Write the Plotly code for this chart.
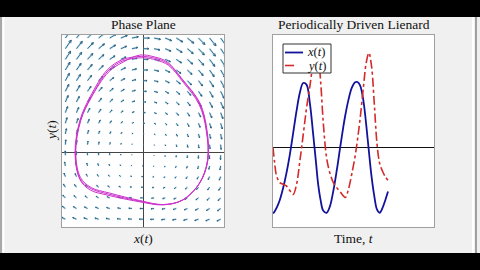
import numpy as np
import plotly.graph_objects as go

# ---- right panel: time series ----
t_vals = [0, 0.29, 0.58, 1.17, 1.75, 2.33, 2.92, 3.50, 4.08, 4.66, 5.25, 5.83, 6.41, 7.00,
          7.46, 7.87, 8.28, 8.75, 9.33, 9.91, 10.50, 11.08, 11.66, 12.24, 12.59, 13.12,
          13.70, 14.29, 14.69, 15.16, 15.74, 16.21, 16.68, 17.14, 17.61, 18.08, 18.54,
          19.01, 19.53, 20.0]
x_vals = [-1.99, -1.93, -1.84, -1.59, -1.23, -0.78, -0.22, 0.43, 1.09, 1.65, 1.95, 1.90,
          1.34, 0.38, -0.42, -1.13, -1.59, -1.91, -1.97, -1.77, -1.30, -0.70, -0.02, 0.64,
          0.99, 1.44, 1.80, 1.97, 1.98, 1.87, 1.39, 0.69, -0.12, -0.88, -1.46, -1.87,
          -1.97, -1.84, -1.59, -1.33]
y_vals = [0.0, -0.47, -0.83, -1.06, -1.11, -1.16, -1.30, -1.42, -1.13, -0.42, 0.38, 1.19,
          1.85, 2.56, 2.86, 2.71, 2.00, 0.74, -0.32, -0.78, -1.06, -1.21, -1.33, -1.46,
          -1.51, -1.26, -0.80, -0.25, 0.23, 0.89, 1.85, 2.56, 2.86, 2.45, 1.34, 0.13,
          -0.47, -0.70, -0.88, -0.99]

# ---- left panel: limit-cycle loops read from the phase plane (three passes) ----
loop_a_x = [-0.09, 0.36, 0.72, 1.19, 1.70, 1.91, 1.94, 1.70, 1.19, 0.60, -0.09, -1.07,
            -1.58, -1.88, -2.03, -1.88, -1.58, -1.07, -0.63]
loop_a_y = [2.88, 2.82, 2.68, 2.15, 1.47, 0.68, -0.21, -0.88, -1.38, -1.53, -1.44, -1.24,
            -1.09, -0.79, 0.00, 0.97, 1.65, 2.44, 2.74]
loop_b_x = [-0.05, 0.38, 0.74, 1.20, 1.69, 1.90, 1.93, 1.69, 1.18, 0.59, -0.09, -1.03,
            -1.56, -1.88, -2.02, -1.87, -1.56, -1.05, -0.60]
loop_b_y = [2.84, 2.78, 2.63, 2.12, 1.45, 0.67, -0.21, -0.89, -1.39, -1.52, -1.42, -1.21,
            -1.05, -0.76, 0.01, 0.96, 1.63, 2.41, 2.71]
loop_c_x = [0.02, 0.40, 0.76, 1.20, 1.68, 1.89, 1.93, 1.68, 1.16, 0.58, -0.10, -1.00,
            -1.55, -1.87, -2.01, -1.86, -1.55, -1.03, -0.58]
loop_c_y = [2.80, 2.73, 2.58, 2.08, 1.42, 0.66, -0.22, -0.90, -1.40, -1.52, -1.40, -1.18,
            -1.02, -0.72, 0.02, 0.95, 1.62, 2.38, 2.68]

# ---- quiver grid for the phase plane ----
grid_x = np.linspace(-2.32, 2.32, 15)
grid_y = np.linspace(-1.95, 3.38, 18)

title_left = "Phase Plane"
title_right = "Periodically Driven Lienard"
legend_labels = ["<i>x</i>(<i>t</i>)", "<i>y</i>(<i>t</i>)"]

W, H = 480, 270
FONT = "Liberation Serif"
BLUE = "#12129c"
RED = "#d42a2a"

# arrows of the direction field
fx, fy, hx, hy = [], [], [], []
k = 0.057
for xx in grid_x:
    for yy in grid_y:
        u = yy
        v = -xx * max(0.25, 1 + 0.3 * yy)
        dx, dy = u * k, v * k
        x1, y1 = xx + dx, yy + dy
        fx += [xx, x1, None]
        fy += [yy, y1, None]
        L = np.hypot(dx, dy)
        if L > 1e-6:
            ang = np.arctan2(dy, dx)
            hl = 0.3 * L
            for s in (1, -1):
                a = ang + np.pi - s * 0.45
                hx += [x1, x1 + hl * np.cos(a), None]
                hy += [y1, y1 + hl * np.sin(a), None]

phase_x = loop_a_x + loop_b_x + loop_c_x + loop_a_x[:1]
phase_y = loop_a_y + loop_b_y + loop_c_y + loop_a_y[:1]

fig = go.Figure()
fig.add_trace(go.Scatter(x=fx, y=fy, mode="lines", xaxis="x", yaxis="y",
                         line=dict(color="rgba(120,200,230,0.40)", width=2.2),
                         hoverinfo="skip", showlegend=False))
fig.add_trace(go.Scatter(x=fx + hx, y=fy + hy, mode="lines", xaxis="x", yaxis="y",
                         line=dict(color="#2a5d7c", width=0.9),
                         hoverinfo="skip", showlegend=False))
fig.add_trace(go.Scatter(x=phase_x, y=phase_y, mode="lines", xaxis="x", yaxis="y",
                         line=dict(color="#cc33cc", width=1.0, shape="spline"),
                         hoverinfo="skip", showlegend=False))
fig.add_trace(go.Scatter(x=t_vals, y=x_vals, mode="lines", xaxis="x2", yaxis="y2",
                         name=legend_labels[0], showlegend=False,
                         line=dict(color=BLUE, width=1.8, shape="spline")))
fig.add_trace(go.Scatter(x=t_vals, y=y_vals, mode="lines", xaxis="x2", yaxis="y2",
                         name=legend_labels[1], showlegend=False,
                         line=dict(color=RED, width=1.6, dash="dashdot", shape="spline")))

ax_common = dict(showticklabels=False, ticks="", showgrid=False, showline=True,
                 mirror=True, linecolor="#a0a0a0", linewidth=1)

fig.update_layout(
    width=W, height=H, margin=dict(l=0, r=0, t=0, b=0),
    paper_bgcolor="#f0f0f0", plot_bgcolor="white",
    font=dict(family=FONT, size=13, color="#111"),
    showlegend=False,
    xaxis=dict(domain=[62 / W, 224 / W], range=[-2.42, 2.42], anchor="y",
               zeroline=True, zerolinecolor="#444", zerolinewidth=1, **ax_common),
    yaxis=dict(domain=[1 - 227 / H, 1 - 35 / H], range=[-2.18, 3.47], anchor="x",
               zeroline=True, zerolinecolor="#444", zerolinewidth=1, **ax_common),
    xaxis2=dict(domain=[273 / W, 434 / W], range=[0, 28], anchor="y2",
                zeroline=False, **ax_common),
    yaxis2=dict(domain=[1 - 227 / H, 1 - 35 / H], range=[-2.4, 3.4], anchor="x2",
                zeroline=True, zerolinecolor="#111", zerolinewidth=1, **ax_common),
)

def px(x):
    return x / W

def py(y):
    return 1 - y / H

shapes = [
    dict(type="rect", xref="paper", yref="paper", x0=0, x1=1, y0=py(17), y1=1,
         fillcolor="black", line=dict(width=0), layer="below"),
    dict(type="rect", xref="paper", yref="paper", x0=0, x1=1, y0=0, y1=py(253),
         fillcolor="black", line=dict(width=0), layer="below"),
    dict(type="line", xref="paper", yref="paper", x0=px(1), x1=px(1), y0=py(253), y1=py(17),
         line=dict(color="#a8a8a8", width=2), layer="below"),
    dict(type="line", xref="paper", yref="paper", x0=px(3.5), x1=px(3.5), y0=py(253), y1=py(17),
         line=dict(color="white", width=2), layer="below"),
    dict(type="line", xref="paper", yref="paper", x0=px(473), x1=px(473), y0=py(253), y1=py(17),
         line=dict(color="white", width=2), layer="below"),
    dict(type="line", xref="paper", yref="paper", x0=px(476), x1=px(476), y0=py(253), y1=py(17),
         line=dict(color="#a0a0a0", width=2), layer="below"),
    # legend box
    dict(type="rect", xref="paper", yref="paper", x0=px(283), x1=px(331), y0=py(73), y1=py(44),
         fillcolor="white", line=dict(color="#333", width=1), layer="above"),
    dict(type="line", xref="paper", yref="paper", x0=px(285), x1=px(303), y0=py(52.5), y1=py(52.5),
         line=dict(color=BLUE, width=1.8), layer="above"),
    dict(type="line", xref="paper", yref="paper", x0=px(285), x1=px(303), y0=py(65.5), y1=py(65.5),
         line=dict(color=RED, width=1.6, dash="dash"), layer="above"),
]
fig.update_layout(shapes=shapes)

ann = [
    dict(text=title_left, x=px(143), y=py(24)),
    dict(text=title_right, x=px(353.5), y=py(24)),
    dict(text="<i>x</i>(<i>t</i>)", x=px(143), y=py(238)),
    dict(text="Time, <i>t</i>", x=px(353.5), y=py(238)),
    dict(text="<i>y</i>(<i>t</i>)", x=px(51), y=py(131), textangle=-90),
]
for a in ann:
    a.update(xref="paper", yref="paper", showarrow=False, xanchor="center", yanchor="middle",
             font=dict(family=FONT, size=13.5, color="#111"))
legend_ann = [
    dict(text=legend_labels[0], x=px(305), y=py(52.5)),
    dict(text=legend_labels[1], x=px(305), y=py(65.5)),
]
for a in legend_ann:
    a.update(xref="paper", yref="paper", showarrow=False, xanchor="left", yanchor="middle",
             font=dict(family=FONT, size=12.5, color="#111"))
fig.update_layout(annotations=ann + legend_ann)

fig.write_html("out.html")
